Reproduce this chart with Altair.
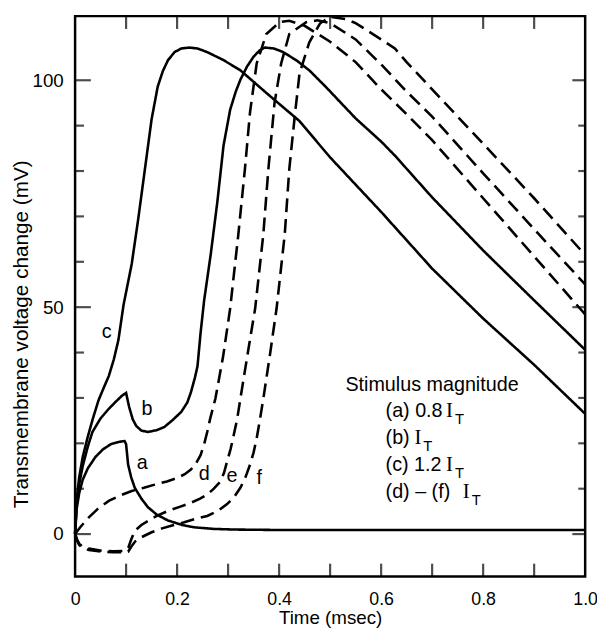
import altair as alt
import pandas as pd

# ---------------- data ----------------
t_a = [0, 0.003, 0.008, 0.015, 0.025, 0.04, 0.055, 0.07, 0.085, 0.097, 0.1, 0.104, 0.11, 0.117,
       0.13, 0.143, 0.16, 0.182, 0.21, 0.233, 0.27, 0.311, 0.4, 0.6, 0.8, 1.0]
v_a = [0, 5.5, 9, 12, 14.5, 17, 18.7, 19.8, 20.3, 20.5, 19.8, 15.3, 12.5, 10.2,
       7.8, 5.9, 4.3, 3.0, 2.0, 1.5, 1.15, 1.0, 0.9, 0.9, 0.9, 0.9]

t_b = [0, 0.003, 0.008, 0.015, 0.025, 0.034, 0.05, 0.066, 0.08, 0.092, 0.1, 0.106, 0.113, 0.12,
       0.13, 0.143, 0.16, 0.175, 0.19, 0.208, 0.22, 0.227, 0.235, 0.24, 0.246, 0.253, 0.266,
       0.279, 0.291, 0.304, 0.315, 0.324, 0.337, 0.35, 0.362, 0.372, 0.39, 0.408, 0.435, 0.459,
       0.491, 0.55, 0.6, 0.627, 0.7, 0.8, 0.9, 1.0]
v_b = [0, 6.5, 11, 15, 19.3, 22.5, 25.5, 27.6, 29.2, 30.5, 31.1, 28, 25.3, 23.8,
       22.8, 22.5, 22.9, 23.6, 25, 26.9, 29, 31.2, 34.5, 37, 44.3, 51.5, 61.7,
       73.3, 85.6, 93.5, 97.5, 100.1, 103, 105.2, 106.6, 107.2, 107, 106.2, 104.3, 102.2,
       98.6, 91.6, 86.5, 83.4, 74.2, 62.5, 51.5, 40.6]

t_c = [0, 0.003, 0.008, 0.015, 0.025, 0.035, 0.046, 0.056, 0.066, 0.076, 0.085, 0.095, 0.103,
       0.111, 0.124, 0.137, 0.15, 0.162, 0.172, 0.182, 0.195, 0.208, 0.224, 0.24, 0.259, 0.29,
       0.324, 0.375, 0.44, 0.5, 0.6, 0.7, 0.8, 0.9, 1.0]
v_c = [0, 7.5, 12.5, 17, 21.5, 25.5, 29.5, 32.2, 34.8, 38.5, 42.8, 50.5, 55,
       59.5, 69.6, 80.5, 91.4, 98.6, 102, 104.4, 106.2, 107, 107.2, 107, 106.2, 104.5,
       102.2, 97.2, 91, 83, 71, 58.5, 47.5, 37.3, 26.5]

t_d = [0, 0.01, 0.027, 0.045, 0.066, 0.09, 0.111, 0.135, 0.156, 0.18, 0.201, 0.215, 0.227,
       0.237, 0.246, 0.253, 0.259, 0.265, 0.275, 0.29, 0.304, 0.32, 0.333, 0.343, 0.356,
       0.375, 0.401, 0.42, 0.45, 0.5, 0.55, 0.6, 0.65, 0.7, 0.8, 0.9, 1.0]
v_d = [0, 1.5, 3.7, 5.6, 7.3, 8.6, 9.5, 10.2, 10.9, 11.6, 12.4, 13.2, 14.2,
       15.6, 17.4, 19.8, 22.5, 25.5, 29.8, 39, 49.7, 66, 80.5, 93, 103.7,
       110.2, 112.8, 113.1, 112, 108.5, 104, 98, 92.5, 86.8, 74, 61.2, 48.4]

t_e = [0, 0.004, 0.008, 0.015, 0.027, 0.053, 0.075, 0.098, 0.105, 0.11, 0.117, 0.13, 0.143,
       0.16, 0.182, 0.205, 0.227, 0.245, 0.259, 0.272, 0.285, 0.292, 0.298, 0.305, 0.311,
       0.318, 0.324, 0.338, 0.353, 0.369, 0.379, 0.391, 0.404, 0.42, 0.453, 0.475, 0.5,
       0.55, 0.6, 0.65, 0.7, 0.8, 0.9, 1.0]
v_e = [0, -1.2, -2.1, -2.8, -3.2, -3.7, -3.8, -3.7, -2.8, -1.2, 0.7, 2.0, 2.9,
       4.0, 5.1, 6.0, 6.9, 7.8, 8.7, 10, 11.6, 13.5, 16, 18.8, 21.8,
       25.5, 29.8, 39.5, 49.7, 66, 80.5, 95, 103.7, 110.2, 112.8, 113.2, 112.6,
       109, 103.5, 97.5, 92, 79.5, 67.2, 55]

t_f = [0, 0.004, 0.008, 0.015, 0.027, 0.053, 0.075, 0.098, 0.104, 0.11, 0.118, 0.13, 0.15,
       0.169, 0.19, 0.214, 0.235, 0.259, 0.28, 0.298, 0.312, 0.324, 0.334, 0.343, 0.35,
       0.356, 0.362, 0.369, 0.382, 0.395, 0.411, 0.42, 0.43, 0.44, 0.459, 0.48, 0.5, 0.53,
       0.55, 0.6, 0.627, 0.65, 0.7, 0.75, 0.8, 0.9, 1.0]
v_f = [0, -1.5, -2.4, -3.1, -3.5, -3.9, -4.0, -4.0, -3.9, -2.8, -1.6, -0.7, 0.4,
       1.2, 1.9, 2.6, 3.3, 4.0, 5.1, 6.6, 8.2, 10.2, 12.5, 15.3, 18,
       21.1, 25, 29.8, 39.5, 49.7, 66, 80.5, 91.4, 101.5, 108.3, 112.5, 114, 113.5,
       112.6, 109, 107, 104, 98, 92, 86, 74, 61.5]

curve_names = ["a", "b", "c", "d", "e", "f"]
curve_styles = ["solid", "solid", "solid", "dashed", "dashed", "dashed"]

# curve letter labels (position in data units)
label_text = ["a", "b", "c", "d", "e", "f"]
label_t = [0.1315, 0.141, 0.062, 0.253, 0.3075, 0.361]
label_v = [15.7, 27.6, 44.6, 13.3, 12.8, 12.4]

# legend-like annotation
header_text = ["Stimulus magnitude"]
header_t = [0.530]
header_v = [31.6]
item_text = ["(a) 0.8", "(b)", "(c) 1.2", "(d) \u2013 (f)"]
item_t = [0.6087, 0.6087, 0.6087, 0.6087]
item_v = [25.8, 19.8, 13.8, 8.0]
i_t = [0.7273, 0.6654, 0.7273, 0.7602]
sub_t = [0.7447, 0.6828, 0.7447, 0.7776]
sub_v = [24.3, 18.3, 12.3, 6.5]

# axis ticks
x_tick_values = [0.1, 0.2, 0.3, 0.4, 0.5, 0.6, 0.7, 0.8, 0.9]
x_label_values = [0, 0.2, 0.4, 0.6, 0.8, 1.0]
y_major = [0, 50, 100]
y_minor = [10, 20, 30, 40, 60, 70, 80, 90]

Y_MIN, Y_MAX = -9.35, 114.13
W, H = 517, 568
FONT = "Liberation Sans"

# ---------------- build tables ----------------
ts = [t_a, t_b, t_c, t_d, t_e, t_f]
vs = [v_a, v_b, v_c, v_d, v_e, v_f]
rows = []
for name, style, tt, vv in zip(curve_names, curve_styles, ts, vs):
    for i, (t, v) in enumerate(zip(tt, vv)):
        rows.append({"curve": name, "style": style, "t": t, "v": v, "i": i})
df = pd.DataFrame(rows)

xscale = alt.Scale(domain=[0, 1.0], nice=False, zero=False)
yscale = alt.Scale(domain=[Y_MIN, Y_MAX], nice=False, zero=False)

x_axis = alt.Axis(
    values=x_label_values,
    labelExpr="datum.value == 0 ? '0' : format(datum.value, '.1f')",
    ticks=False, tickSize=0, domain=False, grid=False,
    labelFont=FONT, labelFontSize=18, labelColor="black",
    labelPadding=28, labelBaseline="alphabetic", labelFlush=False, labelOverlap=False,
    title="Time (msec)", titleFont=FONT, titleFontSize=19, titleFontWeight="normal",
    titleColor="black", titleY=48, titleBaseline="alphabetic",
)
y_axis = alt.Axis(
    values=y_major,
    ticks=False, tickSize=0, domain=False, grid=False,
    labelFont=FONT, labelFontSize=19, labelColor="black", labelPadding=12,
    labelFlush=False, labelOverlap=False,
    title="Transmembrane voltage change (mV)", titleFont=FONT, titleFontSize=21,
    titleFontWeight="normal", titleColor="black",
    titleAngle=270, titleX=-54, titleY=322, titleBaseline="middle", titleAlign="center",
)

lines = alt.Chart(df).mark_line(color="black", strokeWidth=2.6, strokeCap="butt").encode(
    x=alt.X("t:Q", scale=xscale, axis=x_axis),
    y=alt.Y("v:Q", scale=yscale, axis=y_axis),
    detail="curve:N",
    order="i:Q",
    strokeDash=alt.StrokeDash(
        "style:N",
        scale=alt.Scale(domain=["solid", "dashed"], range=[[1, 0], [14, 7]]),
        legend=None,
    ),
)

labels = alt.Chart(pd.DataFrame({"t": label_t, "v": label_v, "s": label_text})).mark_text(
    font=FONT, fontSize=20, color="black", align="center", baseline="middle"
).encode(x="t:Q", y="v:Q", text="s:N")

header = alt.Chart(pd.DataFrame({"t": header_t, "v": header_v, "s": header_text})).mark_text(
    font=FONT, fontSize=20, color="black", align="left", baseline="alphabetic"
).encode(x="t:Q", y="v:Q", text="s:N")

items = alt.Chart(pd.DataFrame({"t": item_t, "v": item_v, "s": item_text})).mark_text(
    font=FONT, fontSize=20, color="black", align="left", baseline="alphabetic"
).encode(x="t:Q", y="v:Q", text="s:N")

big_i = alt.Chart(pd.DataFrame({"t": i_t, "v": item_v, "s": ["I"] * 4})).mark_text(
    font="Liberation Serif", fontSize=21, color="black", align="left", baseline="alphabetic"
).encode(x="t:Q", y="v:Q", text="s:N")

sub_T = alt.Chart(pd.DataFrame({"t": sub_t, "v": sub_v, "s": ["T"] * 4})).mark_text(
    font=FONT, fontSize=15, color="black", align="left", baseline="alphabetic"
).encode(x="t:Q", y="v:Q", text="s:N")

# inward ticks on all four sides
left_major = alt.Chart(pd.DataFrame({"v": y_major})).mark_tick(
    orient="horizontal", size=16, thickness=2.2, xOffset=8, color="black"
).encode(x=alt.value(0), y="v:Q")
left_minor = alt.Chart(pd.DataFrame({"v": y_minor})).mark_tick(
    orient="horizontal", size=9, thickness=2.2, xOffset=4.5, color="black"
).encode(x=alt.value(0), y="v:Q")
right_major = alt.Chart(pd.DataFrame({"v": y_major})).mark_tick(
    orient="horizontal", size=13, thickness=2.2, xOffset=-6.5, color="black"
).encode(x=alt.value(W), y="v:Q")
right_minor = alt.Chart(pd.DataFrame({"v": y_minor})).mark_tick(
    orient="horizontal", size=7, thickness=2.2, xOffset=-3.5, color="black"
).encode(x=alt.value(W), y="v:Q")
bottom_ticks = alt.Chart(pd.DataFrame({"t": x_tick_values})).mark_tick(
    orient="vertical", size=13, thickness=2.2, yOffset=-6.5, color="black"
).encode(x="t:Q", y=alt.value(H))
top_ticks = alt.Chart(pd.DataFrame({"t": x_tick_values})).mark_tick(
    orient="vertical", size=13, thickness=2.2, yOffset=6.5, color="black"
).encode(x="t:Q", y=alt.value(0))

chart = alt.layer(
    lines, labels, header, items, big_i, sub_T,
    left_major, left_minor, right_major, right_minor, bottom_ticks, top_ticks,
).properties(
    width=W, height=H,
    autosize=alt.AutoSizeParams(type="none"),
    padding={"left": 68, "top": 4, "right": 12, "bottom": 52},
    background="white",
).configure_view(stroke="black", strokeWidth=2.5)

chart.save("out.html", embed_options={"renderer": "svg", "actions": False})
